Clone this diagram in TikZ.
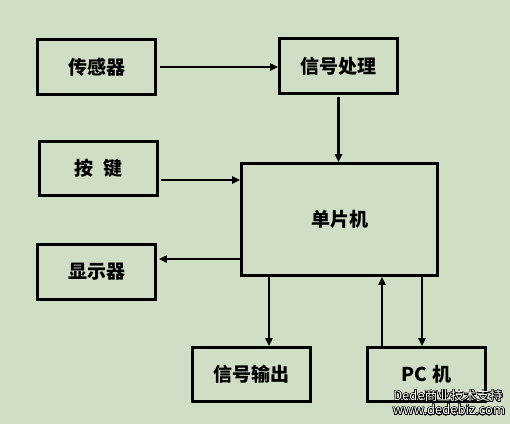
\documentclass[tikz,border=0pt]{standalone}
\usepackage{fontspec}
\setmainfont{Noto Sans CJK SC}
\usepackage{contour}
\contourlength{0.5pt}
\contournumber{32}
\usetikzlibrary{arrows.meta}
\definecolor{bg}{RGB}{207,222,196}
\begin{document}
\begin{tikzpicture}[x=1pt,y=-1pt,
  box/.style={draw=black,line width=2.8pt,inner sep=0pt,font=\fontsize{19}{21}\selectfont\bfseries},
  small/.style={box,minimum width=118pt,minimum height=55pt},
  arr/.style={line width=2.2pt,-{Triangle[length=8pt,width=7pt]}},
  wmark/.style={text=white,inner sep=0pt,font=\fontsize{13}{14}\selectfont}]
\fill[bg] (0,0) rectangle (510,424);
\useasboundingbox (0,0) rectangle (510,424);
\node[small] (sens) at (96.5,67) {传感器};
\node[small] (sig) at (338.5,66) {信号处理};
\node[small,minimum height=54pt] (key) at (98.5,168.5) {按\hspace{0.5em}键};
\node[box,minimum width=196pt,minimum height=112pt] (mcu) at (339.5,219.5) {单片机};
\node[small] (disp) at (96.5,272) {显示器};
\node[small,minimum height=54pt] (out) at (251.5,374.5) {信号输出};
\node[small,minimum height=54pt] (pc) at (426.5,374.5) {PC\hspace{0.3em}机};
\draw[arr,shorten <=3pt] (sens.east) -- (sens.east -| sig.west);
\draw[arr,shorten <=2pt] (sig.south) -- (sig.south |- mcu.north);
\coordinate (k1) at ([yshift=-11.5pt]key.east);
\draw[arr,shorten <=2pt] (k1) -- (k1 -| mcu.west);
\coordinate (m1) at ([yshift=-39.5pt]mcu.west);
\draw[arr,shorten >=2pt] (m1) -- (m1 -| disp.east);
\coordinate (o1) at ([xshift=17.5pt]out.north);
\draw[arr] (o1 |- mcu.south) -- (o1);
\coordinate (p1) at ([xshift=-44.5pt]pc.north);
\draw[arr] (p1) -- (p1 |- mcu.south);
\coordinate (p2) at ([xshift=-4.5pt]pc.north);
\draw[arr] (p2 |- mcu.south) -- (p2);
\node[wmark] (wm1) at (448,396) {\contour{black}{Dede商业技术支持}};
\node[wmark] (wm2) at (449,410) {\contour{black}{www.dedebiz.com}};
\end{tikzpicture}
\end{document}
